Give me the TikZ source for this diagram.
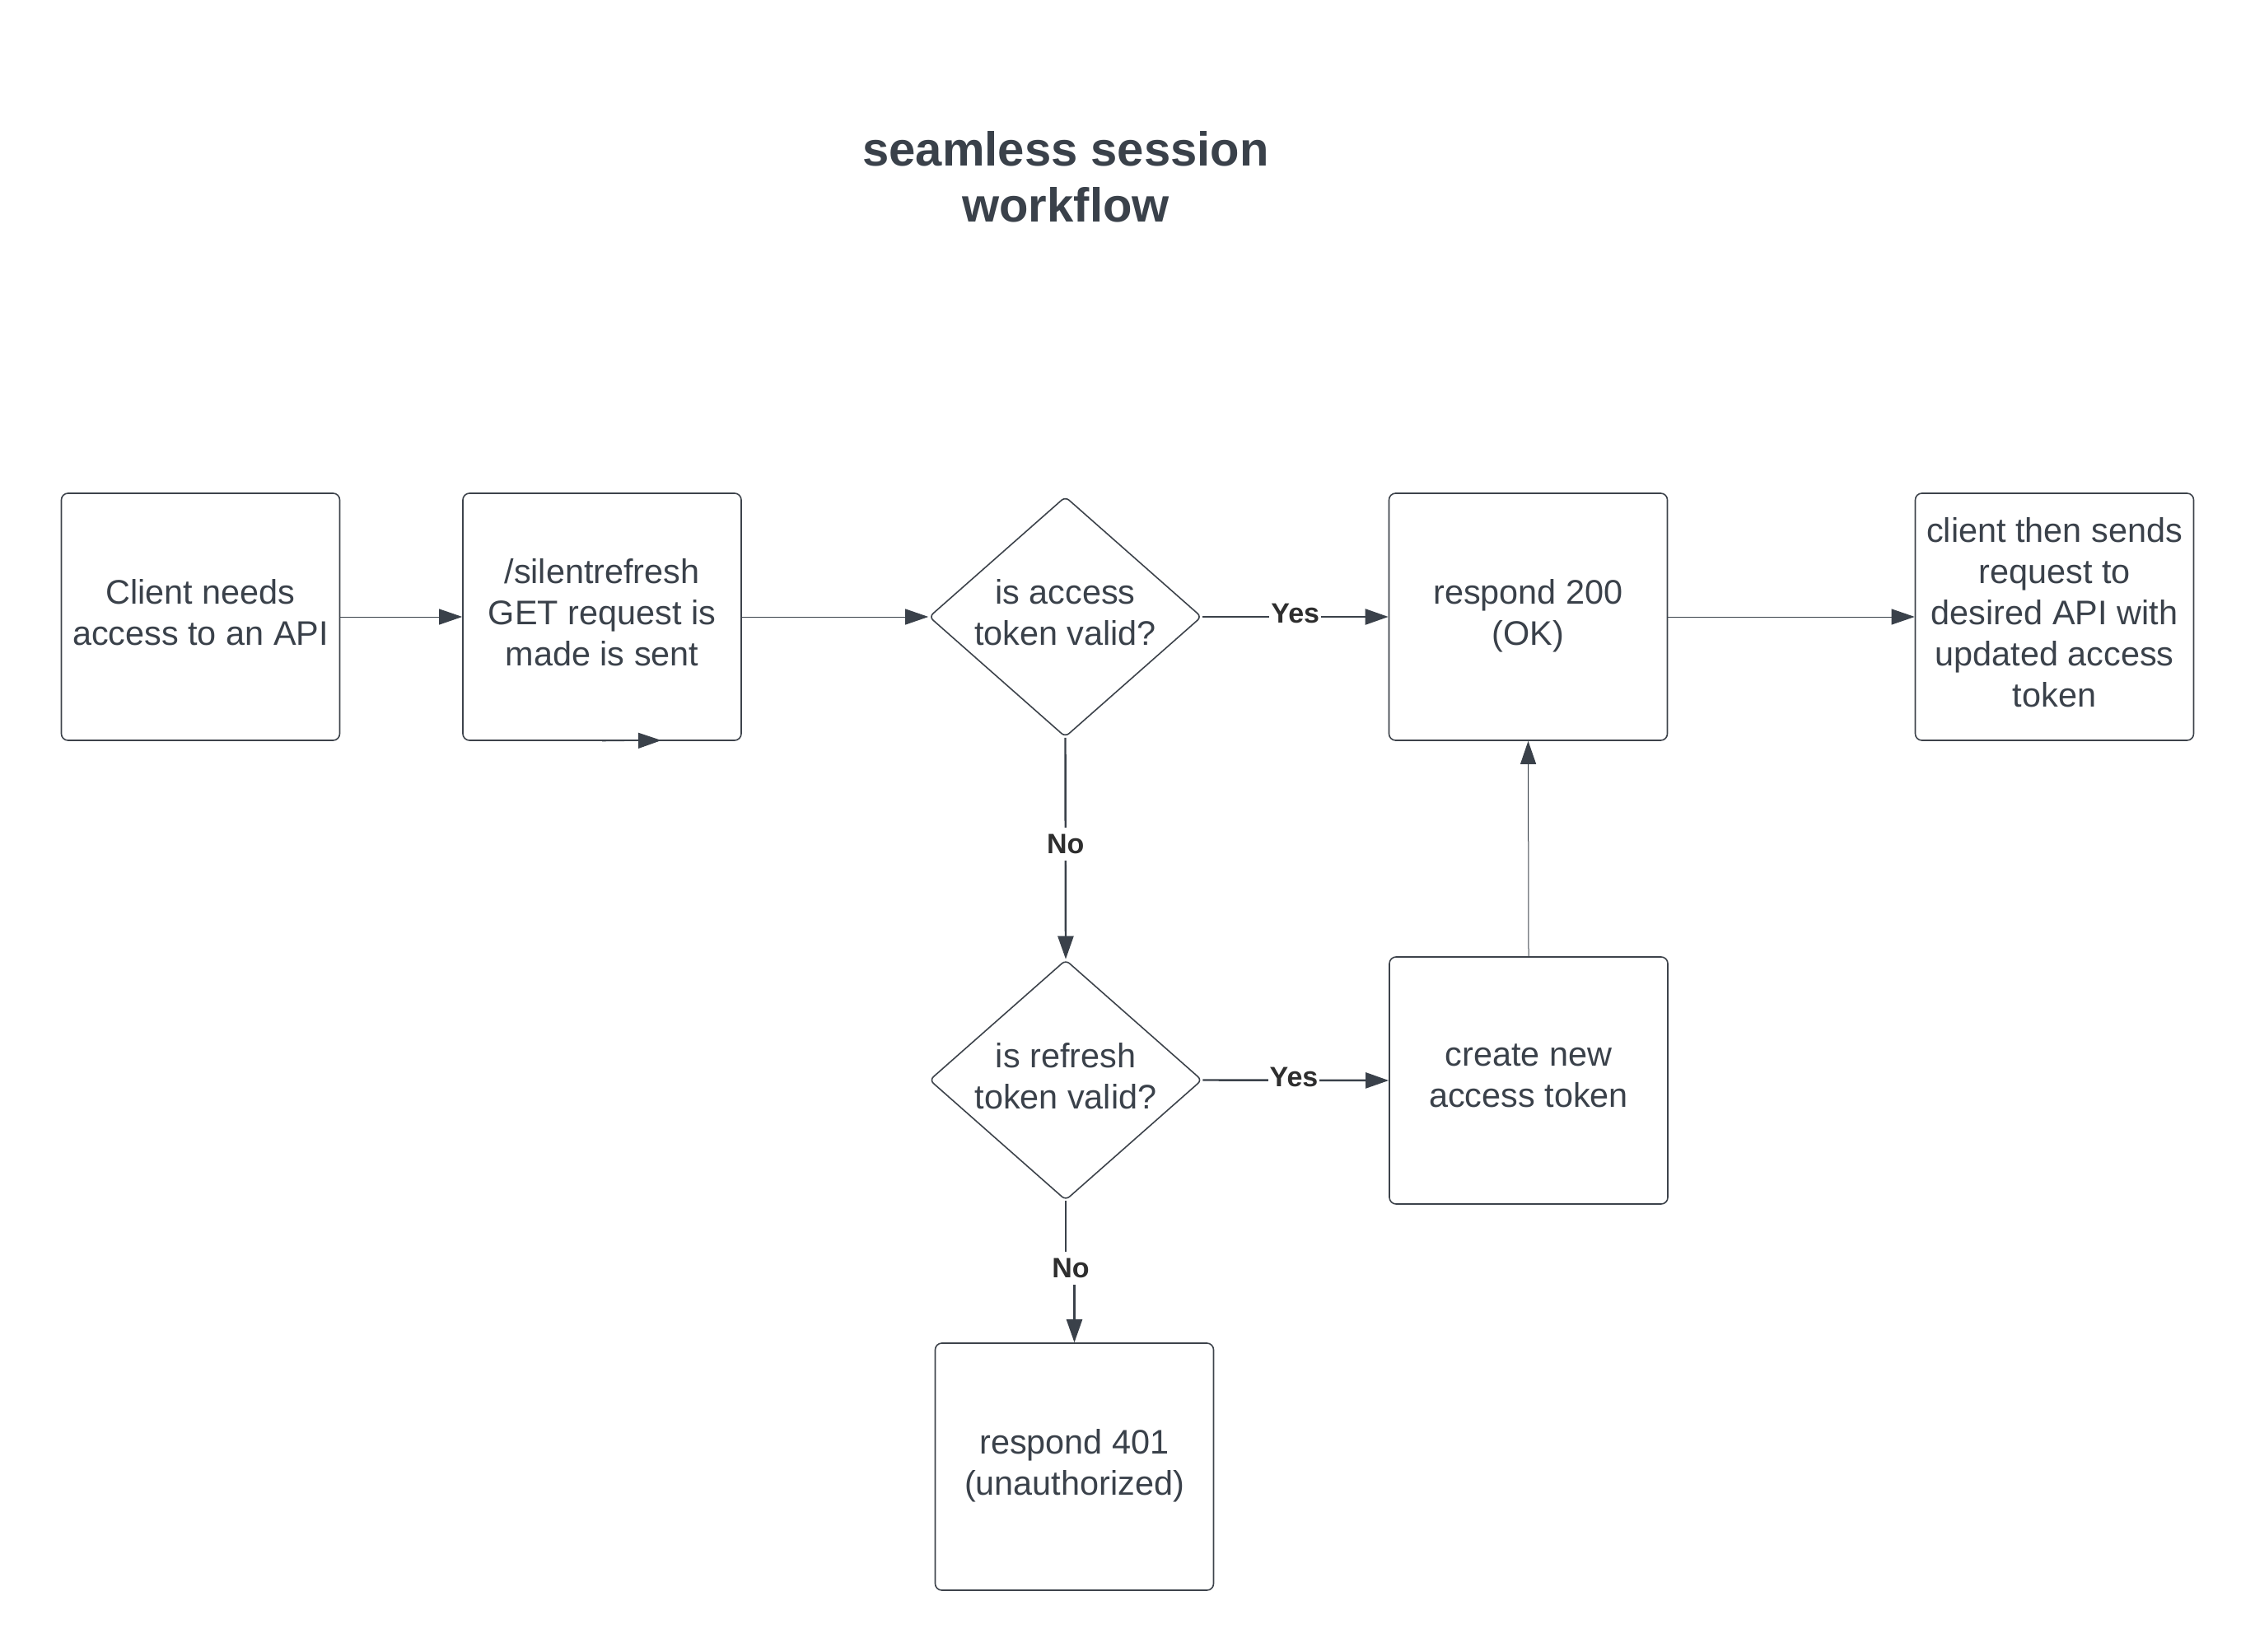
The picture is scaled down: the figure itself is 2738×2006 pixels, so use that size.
\documentclass[tikz,border=0pt]{standalone}
\usepackage{fontspec}
\setmainfont{Liberation Sans}
\usetikzlibrary{shapes.geometric,arrows.meta}
\definecolor{ink}{HTML}{3A414A}
\definecolor{lbl}{HTML}{2E2E2E}
\definecolor{edgec}{HTML}{3D434B}
\newcommand{\linestrut}{\rule[-5.5pt]{0pt}{5.5pt}}
\tikzset{
  bodyfont/.style={font=\fontsize{20.7pt}{25pt}\selectfont,
    execute at end node=\linestrut},
  box/.style={draw=edgec, line width=0.8pt, rounded corners=4pt,
    minimum width=169pt, minimum height=150pt, inner sep=0pt,
    align=center, text=ink, bodyfont},
  dmd/.style={diamond, draw=edgec, line width=0.8pt, rounded corners=3pt,
    minimum width=165.5pt, minimum height=146pt, aspect=1.13, inner sep=0pt,
    align=center, text=ink, bodyfont},
  tip/.style={-{Triangle[length=14pt,width=9.5pt]}},
  thinarrow/.style={draw=ink, line width=0.5pt, tip},
  thickarrow/.style={draw=ink, line width=1.2pt, tip},
  yn/.style={fill=white, text=lbl, inner xsep=1pt, inner ysep=4pt,
    font=\bfseries\fontsize{17pt}{20pt}\selectfont},
  titlestyle/.style={align=center, text=ink,
    font=\bfseries\fontsize{29pt}{34pt}\selectfont}
}
\begin{document}
\begin{tikzpicture}[x=0.5pt, y=-0.5pt]
\useasboundingbox (0,0) rectangle (2738,2006);

\node[titlestyle] (title) at (1294,215) {seamless session\\workflow};

\node[box] (b1) at (243.5,749) {Client needs\\access to an API};
\node[box] (b2) at (731,749) {/silentrefresh\\GET request is\\made is sent};
\node[dmd] (d1) at (1293.5,749) {is access\\token valid?};
\node[box] (b200) at (1855.5,749) {respond 200\\(OK)};
\node[box] (fin) at (2494.5,749) {client then sends\\request to\\desired API with\\updated access\\token};
\node[dmd] (d2) at (1294,1311.5) {is refresh\\token valid?};
\node[box] (cr) at (1856,1312) {create new\\access token};
\node[box] (b401) at (1304.5,1781) {respond 401\\(unauthorized)};

\coordinate (stub) at (803,899);
\coordinate (jog) at (1300,1545);

\draw[thinarrow] (b1.east) -- (b2.west);
\draw[thinarrow] (b2.south) -- (stub);
\draw[thinarrow] (b2.east) -- (d1.west);
\draw[thickarrow] (d1.east) -- node[yn, yshift=2pt] (y1) {Yes} (b200.west);
\draw[thickarrow] (d1.south) -- node[yn, pos=0.48] (n1) {No} (d2.north);
\draw[thickarrow] (d2.east) -- node[yn, pos=0.49, yshift=2pt] (y2) {Yes} (cr.west);
\draw[thickarrow] (d2.south) |- (jog) -| (b401.north);
\node[yn] (n2) at (1300,1540) {No};
\draw[thinarrow] (cr.north) -- (b200.south);
\draw[thinarrow] (b200.east) -- (fin.west);
\end{tikzpicture}
\end{document}
